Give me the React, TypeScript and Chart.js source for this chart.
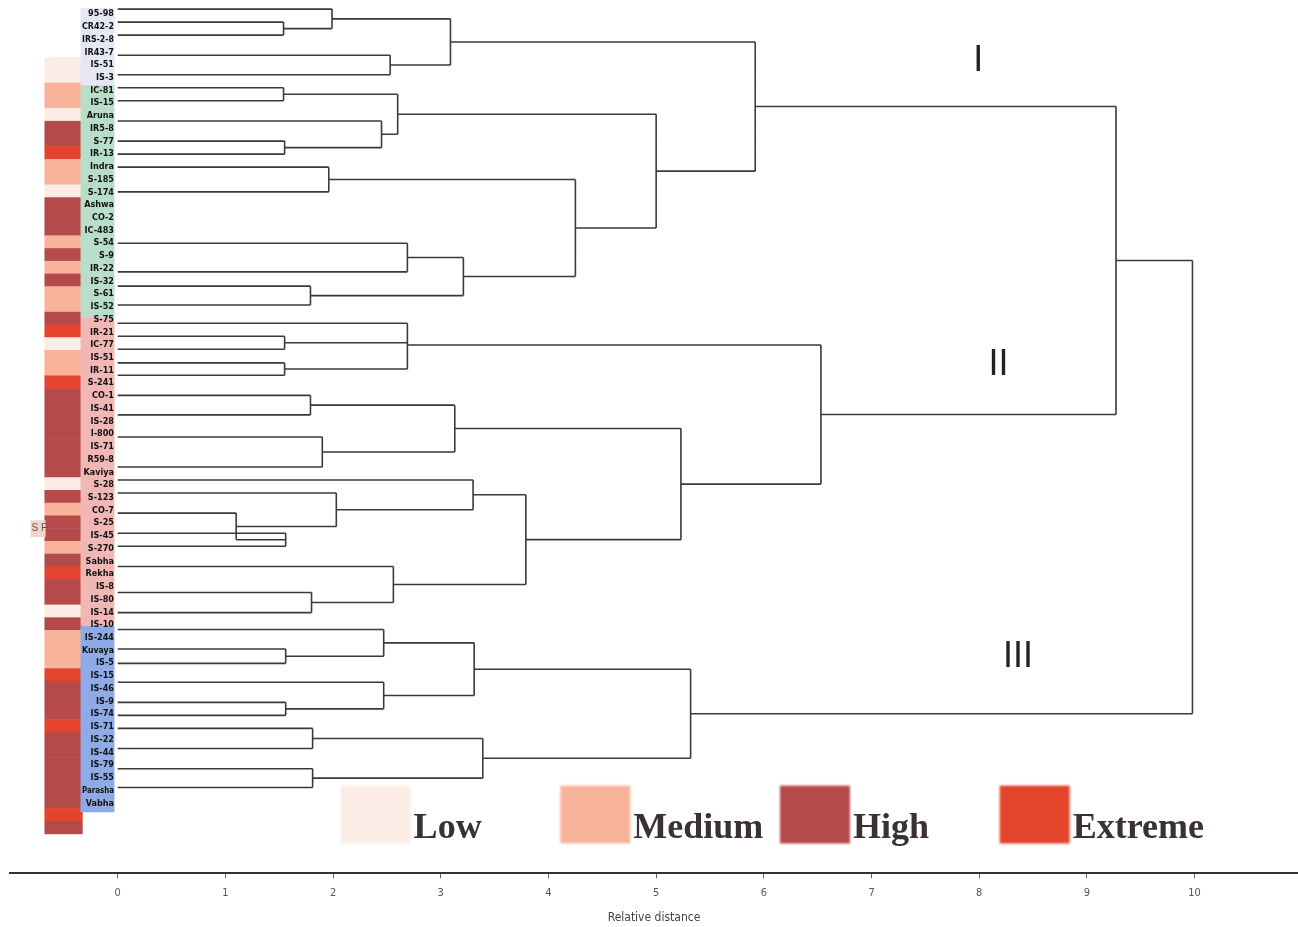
import { useEffect, useRef } from "react";
import { Chart, registerables } from "chart.js";

Chart.register(...registerables);

// Leaf positions along the (top-to-bottom) order axis, in row units
const leafRows = [
  1.4, 3.4, 5.4, 8.5, 11.5, 13.5, 15.5, 18.6, 21.7, 23.7, 25.7, 29.5, 37.4, 41.8, 44.0,
  46.9, 49.7, 51.7, 53.7, 55.8, 57.7, 60.8, 63.8, 67.2, 71.8, 73.8, 75.8, 78.9, 82.0,
  84.0, 87.1, 91.1, 94.2, 96.8, 99.8, 102.0, 104.9, 108.0, 110.0, 112.0, 115.1, 118.2,
  121.1,
];

// Agglomeration steps: members are leaf indices (0..42) or earlier steps (43 + step index)
const mergeMembers = [
  [1, 2], [0, 43], [3, 4], [44, 45], [5, 6], [8, 9], [7, 48], [47, 49], [10, 11],
  [12, 13], [14, 15], [52, 53], [51, 54], [50, 55], [46, 56], [17, 18], [19, 20],
  [16, 58, 59], [21, 22], [23, 24], [61, 62], [28, 29], [27, 64], [26, 65], [25, 66],
  [31, 32], [30, 68], [67, 69], [63, 70], [60, 71], [57, 72], [34, 35], [33, 74],
  [37, 38], [36, 76], [75, 77], [39, 40], [41, 42], [79, 80], [78, 81], [73, 82],
];

// Relative distance at which each step joins its members
const mergeHeights = [
  1.54, 1.99, 2.53, 3.09, 1.54, 1.55, 2.45, 2.6, 1.96, 2.69, 1.79, 3.21, 4.25, 5.0, 5.92,
  1.55, 1.55, 2.69, 1.79, 1.9, 3.13, 1.56, 1.1, 2.03, 3.3, 1.8, 2.56, 3.79, 5.23, 6.53,
  9.27, 1.56, 2.47, 1.56, 2.47, 3.31, 1.81, 1.81, 3.39, 5.32, 9.98,
];

// Genotype names
const genotypeLabels = [
  "95-98", "CR42-2", "IRS-2-8", "IR43-7", "IS-51", "IS-3", "IC-81", "IS-15", "Aruna",
  "IR5-8", "S-77", "IR-13", "Indra", "S-185", "S-174", "Ashwa", "CO-2", "IC-483", "S-54",
  "S-9", "IR-22", "IS-32", "S-61", "IS-52", "S-75", "IR-21", "IC-77", "IS-51", "IR-11",
  "S-241", "CO-1", "IS-41", "IS-28", "I-800", "IS-71", "R59-8", "Kaviya", "S-28", "S-123",
  "CO-7", "S-25", "IS-45", "S-270", "Sabha", "Rekha", "IS-8", "IS-80", "IS-14", "IS-10",
  "IS-244", "Kuvaya", "IS-5", "IS-15", "IS-46", "IS-9", "IS-74", "IS-71", "IS-22", "IS-44",
  "IS-79", "IS-55", "Parasha", "Vabha",
];

// Group bands behind the genotype names (row boundaries) and their tints
const groupBandRows = [1.2, 13.1, 48.9, 96.2, 124.9];
const groupBandColors = ["#e6e7f4", "#b8dec9", "#f1b7b4", "#8fabe7"];

// Severity level per strip cell: 0 Low, 1 Medium, 2 High, 3 Extreme
const severityLevels = [
  0, 0, 1, 1, 0, 2, 2, 3, 1, 1, 0, 2, 2, 2, 1, 2, 1, 2, 1, 1, 2, 3, 0, 1, 1, 3, 2, 2, 2, 2,
  2, 2, 2, 0, 2, 1, 2, 2, 1, 2, 3, 2, 2, 0, 2, 1, 1, 1, 3, 2, 2, 2, 3, 2, 2, 2, 2, 2, 2, 3,
  2,
];
const severityNames = ["Low", "Medium", "High", "Extreme"];
const severityColors = ["#fbede6", "#f7b49b", "#b54a4b", "#e4442b"];

// Cluster names with their anchor (distance, row)
const clusterNames = ["I", "II", "III"];
const clusterX = [7.99, 8.18, 8.36];
const clusterRow = [10.9, 57.7, 102.6];

const tickValues = [0, 1, 2, 3, 4, 5, 6, 7, 8, 9, 10];

function buildSegments() {
  const nodeX: number[] = leafRows.map(() => 0);
  const nodeY: number[] = [...leafRows];
  const pts: { x: number | null; y: number | null }[] = [];
  mergeMembers.forEach((members, i) => {
    const h = mergeHeights[i];
    const ys = members.map((c) => nodeY[c]);
    members.forEach((c) => {
      pts.push({ x: nodeX[c], y: nodeY[c] }, { x: h, y: nodeY[c] }, { x: null, y: null });
    });
    pts.push({ x: h, y: Math.min(...ys) }, { x: h, y: Math.max(...ys) }, { x: null, y: null });
    nodeX.push(h);
    nodeY.push(ys.reduce((a, b) => a + b, 0) / ys.length);
  });
  return pts;
}

const decorations = {
  id: "decorations",
  beforeDatasetsDraw(chart: any) {
    const { ctx } = chart;
    const xs = chart.scales.x;
    const ys = chart.scales.y;
    const px = (v: number) => xs.getPixelForValue(v);
    const py = (v: number) => ys.getPixelForValue(v);
    ctx.save();

    // severity strip
    const sx0 = px(-0.68);
    const sx1 = px(-0.325);
    const top = py(8.8);
    const bottom = py(128.2);
    const cellH = (bottom - top) / severityLevels.length;
    severityLevels.forEach((lv, i) => {
      ctx.fillStyle = severityColors[lv];
      ctx.fillRect(sx0, top + i * cellH, sx1 - sx0, cellH + 0.5);
    });

    // stray tag beside the strip
    ctx.fillStyle = "#f6d4ce";
    ctx.fillRect(px(-0.81), py(80), px(-0.67) - px(-0.81), py(82.6) - py(80));
    ctx.fillStyle = "#555";
    ctx.font = "10px 'Liberation Sans', sans-serif";
    ctx.textAlign = "left";
    ctx.textBaseline = "middle";
    ctx.fillText("S F", px(-0.8), py(81.3));

    // group bands behind names
    const lx0 = px(-0.345);
    const lx1 = px(-0.03);
    groupBandColors.forEach((c, i) => {
      ctx.fillStyle = c;
      const a = py(groupBandRows[i]);
      const b = py(groupBandRows[i + 1]);
      ctx.fillRect(lx0, a, lx1 - lx0, b - a);
    });

    // genotype names
    ctx.fillStyle = "#111";
    ctx.font = "bold 9px 'Liberation Sans Narrow', 'DejaVu Sans Condensed', sans-serif";
    ctx.textAlign = "right";
    ctx.textBaseline = "middle";
    const r0 = 2.15;
    const r1 = 123.5;
    genotypeLabels.forEach((t, i) => {
      const r = r0 + ((r1 - r0) * i) / (genotypeLabels.length - 1);
      ctx.fillText(t, px(-0.035), py(r), lx1 - lx0 - 2);
    });
    ctx.restore();
  },
  afterDraw(chart: any) {
    const { ctx } = chart;
    const xs = chart.scales.x;
    const ys = chart.scales.y;
    const px = (v: number) => xs.getPixelForValue(v);
    const py = (v: number) => ys.getPixelForValue(v);
    ctx.save();

    // cluster names
    ctx.fillStyle = "#222";
    ctx.font = "36px 'Liberation Sans', sans-serif";
    ctx.textAlign = "center";
    ctx.textBaseline = "alphabetic";
    clusterNames.forEach((n, i) => ctx.fillText(n, px(clusterX[i]), py(clusterRow[i])));

    // severity key
    const boxW = px(0.65) - px(0);
    severityNames.forEach((name, i) => {
      const bx = px(2.07 + i * 2.04);
      const btop = py(120.8);
      const bbot = py(129.7);
      ctx.save();
      ctx.filter = "blur(1px)";
      ctx.fillStyle = severityColors[i];
      ctx.fillRect(bx, btop, boxW, bbot - btop);
      ctx.restore();
      ctx.fillStyle = "#3a3131";
      ctx.font = "bold 36px 'Liberation Serif', serif";
      ctx.textAlign = "left";
      ctx.textBaseline = "alphabetic";
      ctx.fillText(name, bx + boxW + 3, py(128.9));
    });
    ctx.restore();
  },
};

export default function App() {
  const canvasRef = useRef<HTMLCanvasElement | null>(null);

  useEffect(() => {
    if (!canvasRef.current) return;
    const chart = new Chart(canvasRef.current, {
      type: "scatter",
      data: {
        datasets: [
          {
            data: buildSegments() as any,
            showLine: true,
            spanGaps: false,
            borderColor: "#3a3a3a",
            borderWidth: 1.6,
            pointRadius: 0,
            pointHoverRadius: 0,
          },
        ],
      },
      options: {
        animation: false,
        responsive: true,
        maintainAspectRatio: false,
        layout: { padding: { left: 10, right: 0, top: 0, bottom: 2 } },
        plugins: { legend: { display: false }, tooltip: { enabled: false } },
        scales: {
          x: {
            type: "linear",
            min: -1,
            max: 10.96,
            afterBuildTicks: (scale: any) => {
              scale.ticks = tickValues.map((v) => ({ value: v }));
            },
            ticks: {
              color: "#555",
              padding: 8,
              font: { size: 11, family: "'Liberation Sans Narrow', 'DejaVu Sans Condensed', sans-serif" },
            },
            grid: { drawOnChartArea: false, drawTicks: true, tickLength: 5, color: "#666" },
            border: { display: true, color: "#333", width: 2 },
            title: {
              display: true,
              text: "Relative distance",
              color: "#444",
              padding: { top: 3, bottom: 0 },
              font: { size: 12, family: "'Liberation Sans Narrow', 'DejaVu Sans Condensed', sans-serif" },
            },
          },
          y: {
            type: "linear",
            display: false,
            reverse: true,
            min: 0,
            max: 134.3,
          },
        },
      },
      plugins: [decorations],
    });
    return () => chart.destroy();
  }, []);

  return (
    <div style={{ position: "absolute", left: 0, top: 0, width: 1298, height: 927, background: "#fff" }}>
      <canvas ref={canvasRef} />
    </div>
  );
}
